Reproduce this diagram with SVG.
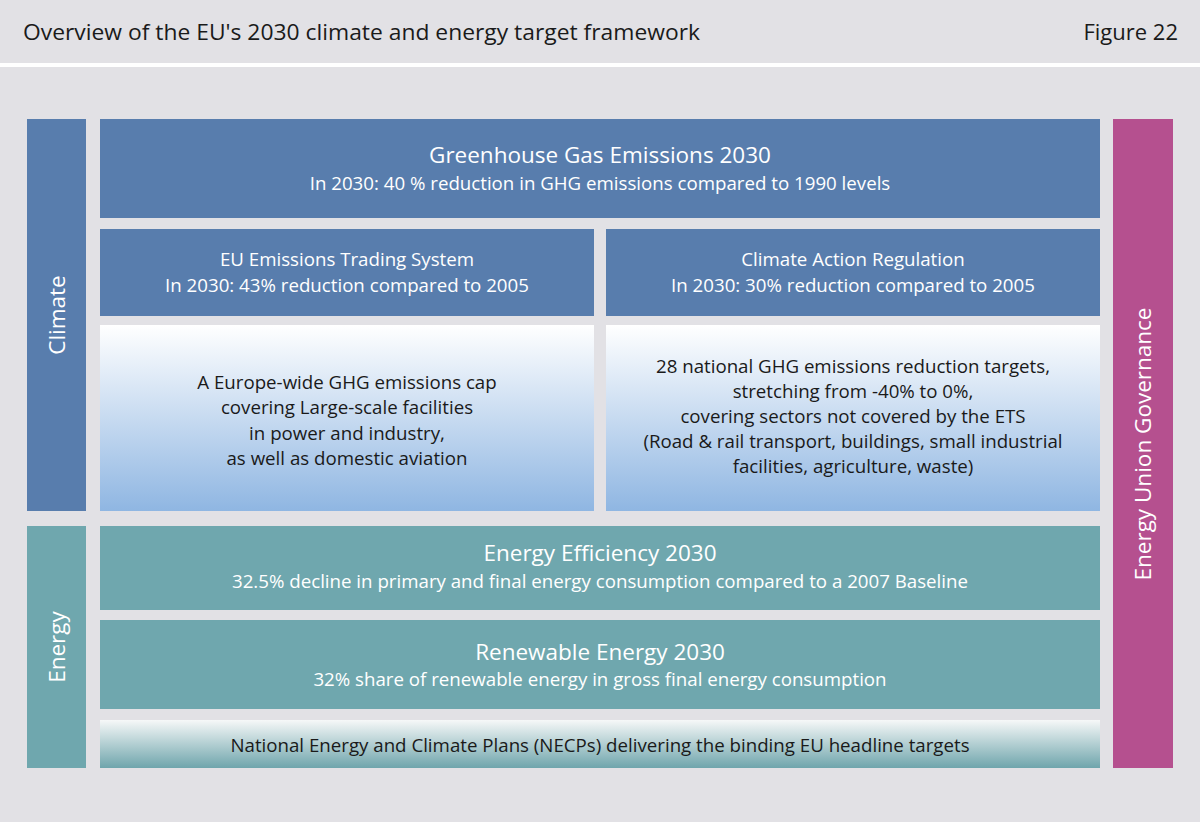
<svg xmlns="http://www.w3.org/2000/svg" width="1200" height="822" viewBox="0 0 1200 822">
<defs>
<linearGradient id="gBlue" x1="0" y1="0" x2="0" y2="1">
<stop offset="0" stop-color="#ffffff"/>
<stop offset="1" stop-color="#8fb6e2"/>
</linearGradient>
<linearGradient id="gTeal" x1="0" y1="0" x2="0" y2="1">
<stop offset="0" stop-color="#f6f8f8"/>
<stop offset="1" stop-color="#6fa5ac"/>
</linearGradient>
<style>
text{font-family:"Open Sans","Noto Sans","DejaVu Sans",sans-serif;}
.hdr{font-size:22px;fill:#1a1a1a;}
.blue{fill:#587dad;}
.teal{fill:#6fa7ae;}
.mag{fill:#b5508f;}
.t1{font-size:22.5px;fill:#ffffff;text-anchor:middle;}
.t2{font-size:18.7px;fill:#ffffff;text-anchor:middle;}
.d{font-size:18.7px;fill:#1a1a1a;text-anchor:middle;}
.side{font-size:22.5px;fill:#ffffff;text-anchor:middle;}
</style>
</defs>
<rect x="0" y="0" width="1200" height="822" fill="#e2e1e5"/>
<rect x="0" y="63" width="1200" height="4" fill="#ffffff"/>
<text class="hdr" x="23" y="40" textLength="677" lengthAdjust="spacingAndGlyphs">Overview of the EU's 2030 climate and energy target framework</text>
<text class="hdr" x="1178" y="40" text-anchor="end">Figure 22</text>

<g id="climate">
<rect class="blue" x="27" y="119" width="59" height="392"/>
<text class="side" transform="translate(65,315) rotate(-90)">Climate</text>
</g>
<g id="energy">
<rect class="teal" x="27" y="526" width="59" height="242"/>
<text class="side" transform="translate(65,647) rotate(-90)">Energy</text>
</g>
<g id="governance">
<rect class="mag" x="1113" y="119" width="60" height="649"/>
<text class="side" transform="translate(1151,444) rotate(-90)">Energy Union Governance</text>
</g>
<g id="ghg">
<rect class="blue" x="100" y="119" width="1000" height="99"/>
<text class="t1" x="600" y="163">Greenhouse Gas Emissions 2030</text>
<text class="t2" x="600" y="190">In 2030: 40 % reduction in GHG emissions compared to 1990 levels</text>
</g>
<g id="ets">
<rect class="blue" x="100" y="229" width="494" height="87"/>
<text class="t2" x="347" y="266">EU Emissions Trading System</text>
<text class="t2" x="347" y="292">In 2030: 43% reduction compared to 2005</text>
</g>
<g id="car">
<rect class="blue" x="606" y="229" width="494" height="87"/>
<text class="t2" x="853" y="266">Climate Action Regulation</text>
<text class="t2" x="853" y="292">In 2030: 30% reduction compared to 2005</text>
</g>
<g id="ets-desc">
<rect x="100" y="325" width="494" height="186" fill="url(#gBlue)"/>
<text class="d" x="347" y="389">A Europe-wide GHG emissions cap</text>
<text class="d" x="347" y="414">covering Large-scale facilities</text>
<text class="d" x="347" y="440">in power and industry,</text>
<text class="d" x="347" y="465">as well as domestic aviation</text>
</g>
<g id="car-desc">
<rect x="606" y="325" width="494" height="186" fill="url(#gBlue)"/>
<text class="d" x="853" y="373">28 national GHG emissions reduction targets,</text>
<text class="d" x="853" y="398">stretching from -40% to 0%,</text>
<text class="d" x="853" y="423">covering sectors not covered by the ETS</text>
<text class="d" x="853" y="448">(Road &amp; rail transport, buildings, small industrial</text>
<text class="d" x="853" y="473">facilities, agriculture, waste)</text>
</g>
<g id="efficiency">
<rect class="teal" x="100" y="526" width="1000" height="84"/>
<text class="t1" x="600" y="561">Energy Efficiency 2030</text>
<text class="t2" x="600" y="588">32.5% decline in primary and final energy consumption compared to a 2007 Baseline</text>
</g>
<g id="renewable">
<rect class="teal" x="100" y="620" width="1000" height="89"/>
<text class="t1" x="600" y="660">Renewable Energy 2030</text>
<text class="t2" x="600" y="686">32% share of renewable energy in gross final energy consumption</text>
</g>
<g id="necp">
<rect x="100" y="720" width="1000" height="48" fill="url(#gTeal)"/>
<text class="d" x="600" y="752">National Energy and Climate Plans (NECPs) delivering the binding EU headline targets</text>
</g>
<g id="connectors"></g>
</svg>
